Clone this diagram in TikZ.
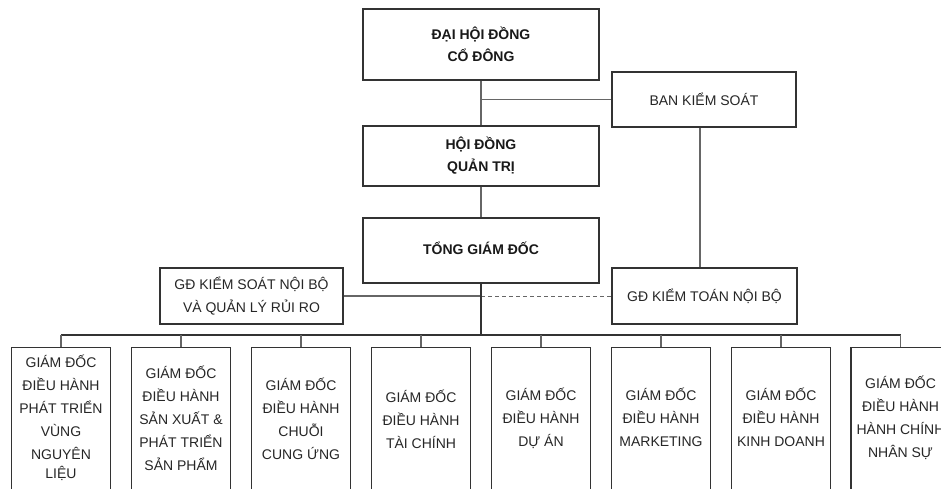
\documentclass[tikz,border=0pt]{standalone}
\usepackage{fontspec}
\setmainfont{Liberation Sans}
\begin{document}
\begin{tikzpicture}[x=1pt,y=-1pt,
  box/.style={draw=black!80,line width=1.2pt,fill=white,inner sep=0pt},
  topt/.style={font=\fontsize{14}{22}\selectfont\bfseries,text=black!90,align=center},
  regt/.style={font=\fontsize{14}{23}\selectfont,text=black!85,align=center},
  conn/.style={draw=black!60,line width=1.3pt},
  busl/.style={draw=black!80,line width=1.6pt}]
\clip (0,0) rectangle (941,489);
\fill[white] (0,0) rectangle (941,489);
% top chain
\node[box,minimum width=236pt,minimum height=71pt] (dh) at (481,44.5) {};
\node[topt] at (dh) {ĐẠI HỘI ĐỒNG\\CỔ ĐÔNG};
\node[box,minimum width=184pt,minimum height=55pt] (bks) at (704,99.5) {};
\node[regt] at (bks) {BAN KIỂM SOÁT};
\node[box,minimum width=236pt,minimum height=60pt] (hd) at (481,156) {};
\node[topt] at (hd) {HỘI ĐỒNG\\QUẢN TRỊ};
\node[box,minimum width=236pt,minimum height=65pt] (tgd) at (481,250.5) {};
\node[topt] at ([yshift=2pt]tgd.center) {TỔNG GIÁM ĐỐC};
\node[box,minimum width=183pt,minimum height=56pt] (gks) at (251.5,296) {};
\node[regt] at (gks) {GĐ KIỂM SOÁT NỘI BỘ\\VÀ QUẢN LÝ RỦI RO};
\node[box,minimum width=185pt,minimum height=56pt] (gkt) at (704.5,296) {};
\node[regt] at (gkt) {GĐ KIỂM TOÁN NỘI BỘ};
% bottom boxes
\foreach \i/\cx in {1/61,2/181,3/301,4/421,5/541,6/661,7/781,8/900.5}{
  \node[box,minimum width=99pt,minimum height=160pt,anchor=north] (b\i) at (\cx,347) {};
}
\node[regt,anchor=north] at (61,351) {GIÁM ĐỐC\\ĐIỀU HÀNH\\PHÁT TRIỂN\\VÙNG\\NGUYÊN\\[-4pt]LIỆU};
\node[regt,anchor=north] at (181,362) {GIÁM ĐỐC\\ĐIỀU HÀNH\\SẢN XUẤT \&\\PHÁT TRIỂN\\SẢN PHẨM};
\node[regt,anchor=north] at (301,374) {GIÁM ĐỐC\\ĐIỀU HÀNH\\CHUỖI\\CUNG ỨNG};
\node[regt,anchor=north] at (421,386) {GIÁM ĐỐC\\ĐIỀU HÀNH\\TÀI CHÍNH};
\node[regt,anchor=north] at (541,384) {GIÁM ĐỐC\\ĐIỀU HÀNH\\DỰ ÁN};
\node[regt,anchor=north] at (661,384) {GIÁM ĐỐC\\ĐIỀU HÀNH\\MARKETING};
\node[regt,anchor=north] at (781,384) {GIÁM ĐỐC\\ĐIỀU HÀNH\\KINH DOANH};
\node[regt,anchor=north] at (900.5,372) {GIÁM ĐỐC\\ĐIỀU HÀNH\\HÀNH CHÍNH\\NHÂN SỰ};
% connectors
\coordinate (j1) at (dh.south |- bks.west);
\draw[conn] (dh.south) -- (hd.north);
\draw[conn] (j1) -- (bks.west);
\draw[conn] (hd.south) -- (tgd.north);
\draw[conn] ([xshift=-4pt]bks.south) -- ([xshift=-4pt]bks.south |- gkt.north);
\coordinate (bus) at (481,335);
\coordinate (j2) at (tgd.south |- gks.east);
\draw[conn] (gks.east) -- (j2);
\draw[conn,dashed,dash pattern=on 4pt off 3pt,line width=1pt] (j2) -- (gkt.west);
\draw[busl] (tgd.south) -- (bus);
\draw[busl] (b1.north |- bus) -- (b8.north |- bus);
\foreach \i in {1,...,8}{\draw[conn] (b\i.north |- bus) -- (b\i.north);}
\end{tikzpicture}
\end{document}
